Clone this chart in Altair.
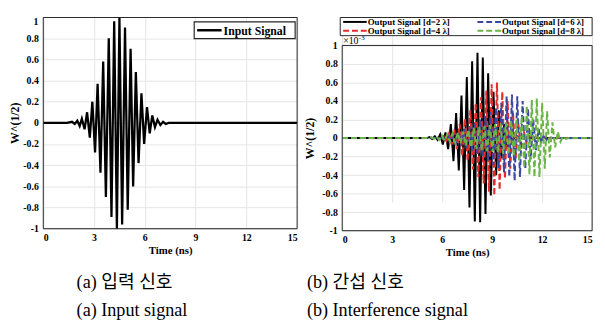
import altair as alt
import pandas as pd

# ---------------- data ----------------
x_ticks = [0, 3, 6, 9, 12, 15]
y_ticks = [-1, -0.8, -0.6, -0.4, -0.2, 0, 0.2, 0.4, 0.6, 0.8, 1]

# (a) input signal: extremes of the burst (time ns, amplitude)
input_t = [0.0, 1.40, 1.70, 1.86, 2.01, 2.15, 2.28, 2.44, 2.59, 2.75, 2.90, 3.06,
           3.21, 3.38, 3.54, 3.70, 3.87, 4.03, 4.19, 4.35, 4.50, 4.66, 4.83, 4.99,
           5.16, 5.31, 5.47, 5.63, 5.80, 5.96, 6.13, 6.29, 6.44, 6.60, 6.75, 6.92,
           7.08, 7.24, 7.40, 15.0]
input_v = [0, 0, 0.01, -0.01, 0.02, -0.03, 0.04, -0.06, 0.10, -0.14, 0.20, -0.28,
           0.37, -0.47, 0.58, -0.70, 0.80, -0.89, 0.96, -1.0, 1.0, -0.96, 0.90, -0.82,
           0.70, -0.60, 0.48, -0.38, 0.28, -0.20, 0.15, -0.10, 0.07, -0.04, 0.03, -0.02,
           0.01, -0.01, 0, 0]

# (b) output signals (x 1e-3)
d2_t = [0.0, 5.08, 5.24, 5.40, 5.56, 5.72, 5.88, 6.04, 6.20, 6.36, 6.52, 6.68, 6.84,
        7.00, 7.16, 7.32, 7.48, 7.64, 7.80, 7.96, 8.12, 8.28, 8.44, 8.60, 8.76, 8.92,
        9.08, 9.24, 9.40, 9.56, 9.72, 9.88, 10.04, 10.20, 10.36, 10.52, 10.68, 15.0]
d2_v = [0, 0, 0.01, -0.01, 0.02, -0.02, 0.04, -0.07, 0.06, -0.12, 0.15, -0.25, 0.27,
        -0.35, 0.46, -0.56, 0.66, -0.75, 0.83, -0.90, 0.92, -0.91, 0.87, -0.82, 0.70, -0.62,
        0.50, -0.40, 0.30, -0.22, 0.15, -0.10, 0.06, -0.04, 0.02, -0.01, 0, 0]

d4_t = [0.0, 5.93, 6.09, 6.25, 6.41, 6.57, 6.73, 6.89, 7.05, 7.21, 7.37, 7.53, 7.69,
        7.85, 8.01, 8.17, 8.33, 8.49, 8.65, 8.81, 8.97, 9.13, 9.29, 9.45, 9.61, 9.77,
        9.93, 10.09, 10.25, 10.41, 10.57, 10.73, 10.89, 11.05, 11.21, 11.37, 11.53,
        11.69, 15.0]
d4_v = [0, 0, 0.02, -0.03, 0.05, -0.07, 0.09, -0.12, 0.15, -0.19, 0.21, -0.25, 0.30,
        -0.34, 0.38, -0.42, 0.44, -0.49, 0.51, -0.58, 0.58, -0.62, 0.60, -0.56, 0.50, -0.44,
        0.40, -0.33, 0.28, -0.22, 0.16, -0.12, 0.08, -0.05, 0.03, -0.02, 0.01,
        0, 0]

d6_t = [0.0, 6.03, 6.19, 6.35, 6.51, 6.67, 6.83, 6.99, 7.15, 7.31, 7.47, 7.63, 7.79,
        7.95, 8.11, 8.27, 8.43, 8.59, 8.75, 8.91, 9.07, 9.23, 9.39, 9.55, 9.71, 9.87,
        10.03, 10.19, 10.35, 10.51, 10.67, 10.83, 10.99, 11.15, 11.31, 11.47, 11.63,
        11.79, 11.95, 12.11, 12.27, 12.43, 12.59, 15.0]
d6_v = [0, 0, -0.01, 0.02, -0.03, 0.04, -0.05, 0.07, -0.08, 0.10, -0.11, 0.13, -0.14,
        0.16, -0.17, 0.20, -0.21, 0.24, -0.25, 0.28, -0.29, 0.33, -0.33, 0.38, -0.37, 0.45,
        -0.42, 0.47, -0.46, 0.45, -0.42, 0.40, -0.33, 0.32, -0.23, 0.20, -0.13,
        0.10, -0.06, 0.04, -0.02, 0.01, 0, 0]

d8_t = [0.0, 5.18, 5.34, 5.50, 5.66, 5.82, 5.98, 6.14, 6.30, 6.46, 6.62, 6.78, 6.94,
        7.10, 7.26, 7.42, 7.58, 7.74, 7.90, 8.06, 8.22, 8.38, 8.54, 8.70, 8.86, 9.02,
        9.18, 9.34, 9.50, 9.66, 9.82, 9.98, 10.14, 10.30, 10.46, 10.62, 10.78, 10.93,
        11.08, 11.24, 11.38, 11.54, 11.68, 11.84, 12.00, 12.16, 12.30, 12.46, 12.62,
        12.78, 12.94, 13.10, 13.26, 13.42, 13.58, 15.0]
d8_v = [0, 0, 0.01, -0.01, 0.02, -0.02, 0.03, -0.03, 0.04, -0.04, 0.05, -0.05, 0.06,
        -0.06, 0.07, -0.08, 0.09, -0.10, 0.11, -0.12, 0.12, -0.13, 0.13, -0.14, 0.14, -0.15,
        0.15, -0.16, 0.16, -0.17, 0.17, -0.18, 0.19, -0.20, 0.20, -0.25, 0.24, -0.32,
        0.35, -0.39, 0.41, -0.42, 0.43, -0.42, 0.38, -0.33, 0.29, -0.21, 0.17,
        -0.10, 0.07, -0.04, 0.02, -0.01, 0, 0]

input_label = "Input Signal"
out_labels = ["Output Signal [d=2 λ]", "Output Signal [d=4 λ]",
              "Output Signal [d=6 λ]", "Output Signal [d=8 λ]"]
out_colors = ["#000000", "#e32b2b", "#3a46a0", "#6bb547"]
captions_a = ["(a) 입력 신호", "(a) Input signal"]
captions_b = ["(b) 간섭 신호", "(b) Interference signal"]

# ---------------- styling ----------------
FONT = "Liberation Serif"
CAPFONT = "Liberation Serif, Noto Sans CJK KR"
GRID = "#e4e4e4"
BOX = "#262626"
DASH = [6, 3]
CAP_Y = [270, 299]


def x_axis():
    return alt.Axis(values=x_ticks, title="Time (ns)", grid=True, gridColor=GRID,
                    domain=False, ticks=False, labelFont=FONT, labelFontWeight="bold",
                    labelFontSize=10, labelColor="black", labelPadding=4,
                    labelExpr="'' + datum.value",
                    titleFont=FONT, titleFontWeight="bold", titleFontSize=11,
                    titleColor="black", titlePadding=2)


def y_axis(title_pad, hide_top):
    expr = "datum.value == 1 ? '' : '' + datum.value" if hide_top else "'' + datum.value"
    return alt.Axis(values=y_ticks, title="W^(1/2)", grid=True, gridColor=GRID,
                    domain=False, ticks=False, labelFont=FONT, labelFontWeight="bold",
                    labelFontSize=10, labelColor="black", labelPadding=5,
                    labelExpr=expr,
                    titleFont=FONT, titleFontWeight="bold", titleFontSize=12,
                    titleColor="black", titlePadding=title_pad)


def caption_layers(x0, lines):
    out = []
    for j, line in enumerate(lines):
        out.append(alt.Chart(pd.DataFrame({"s": [line]})).mark_text(
            align="left", baseline="middle", font=CAPFONT, fontSize=18.5,
            color="black").encode(text="s:N", x=alt.value(x0), y=alt.value(CAP_Y[j])))
    return out


xs = alt.Scale(domain=[0, 15], nice=False, zero=False)
one = pd.DataFrame({"s": [input_label]})
top_lab = pd.DataFrame({"s": [str(y_ticks[-1])]})

# ---------------- (a) input signal ----------------
LW, LH = 259, 216
ys_left = alt.Scale(domain=[-1, 1], nice=False, zero=False)
df_in = pd.DataFrame({"t": input_t, "v": input_v})
left_line = alt.Chart(df_in).mark_line(strokeWidth=2.3, color="black").encode(
    x=alt.X("t:Q", scale=xs, axis=x_axis()),
    y=alt.Y("v:Q", scale=ys_left, axis=y_axis(1, True)),
)
left_top = alt.Chart(top_lab).mark_text(align="right", baseline="top", font=FONT,
                                        fontWeight="bold", fontSize=10,
                                        color="black").encode(
    text="s:N", x=alt.value(-5), y=alt.value(0))
left_box = alt.Chart(one).mark_rect(fill="white", stroke=BOX, strokeWidth=1.2).encode(
    x=alt.value(154), x2=alt.value(257), y=alt.value(5), y2=alt.value(22))
left_sym = alt.Chart(one).mark_rule(strokeWidth=2.5, color="black").encode(
    x=alt.value(157), x2=alt.value(182), y=alt.value(13.5))
left_txt = alt.Chart(one).mark_text(align="left", baseline="middle", font=FONT,
                                    fontWeight="bold", fontSize=12, color="black").encode(
    text="s:N", x=alt.value(184), y=alt.value(14))
left_frame = alt.Chart(one).mark_rect(filled=False, stroke=BOX, strokeWidth=1).encode(
    x=alt.value(0), x2=alt.value(LW), y=alt.value(0.5), y2=alt.value(LH))
left = alt.layer(left_line, left_top, left_box, left_sym, left_txt, left_frame,
                 *caption_layers(34, captions_a)).properties(width=LW, height=LH)

# ---------------- (b) interference signal ----------------
RW, RH, RTOP = 255, 218, 29
ys_right = alt.Scale(domain=[-1, 1], nice=False, zero=False, range=[RH, RTOP])
series = [(d2_t, d2_v), (d4_t, d4_v), (d6_t, d6_v), (d8_t, d8_v)]
layers = []
for i, (tt, vv) in enumerate(series):
    df = pd.DataFrame({"t": tt, "v": vv})
    mk = dict(strokeWidth=2.0, color=out_colors[i])
    if i > 0:
        mk["strokeDash"] = DASH
    layers.append(alt.Chart(df).mark_line(**mk).encode(
        x=alt.X("t:Q", scale=xs, axis=x_axis()),
        y=alt.Y("v:Q", scale=ys_right, axis=y_axis(5, False)),
    ))
exp_df = pd.DataFrame({"s": ["×10"]})
sup_df = pd.DataFrame({"s": ["-3"]})
layers.append(alt.Chart(exp_df).mark_text(align="left", baseline="middle", font=FONT,
                                          fontSize=10, color="black").encode(
    text="s:N", x=alt.value(1), y=alt.value(RTOP - 4)))
layers.append(alt.Chart(sup_df).mark_text(align="left", baseline="middle", font=FONT,
                                          fontSize=7, color="black").encode(
    text="s:N", x=alt.value(17), y=alt.value(RTOP - 8)))
layers.append(alt.Chart(exp_df).mark_rect(filled=False, stroke=BOX, strokeWidth=1).encode(
    x=alt.value(0), x2=alt.value(RW), y=alt.value(RTOP), y2=alt.value(RH)))

# two-column legend above panel (b)
layers.append(alt.Chart(exp_df).mark_rect(fill="white", stroke=BOX, strokeWidth=1).encode(
    x=alt.value(-2), x2=alt.value(RW), y=alt.value(0.5), y2=alt.value(19)))
slots = [(1, 5), (1, 14), (138, 5), (138, 14)]  # column-major: d2, d4 | d6, d8
for i, lab in enumerate(out_labels):
    x0, yy = slots[i]
    rk = dict(strokeWidth=2, color=out_colors[i])
    if i > 0:
        rk["strokeDash"] = DASH
    d = pd.DataFrame({"s": [lab]})
    layers.append(alt.Chart(d).mark_rule(**rk).encode(
        x=alt.value(x0), x2=alt.value(x0 + 24), y=alt.value(yy)))
    layers.append(alt.Chart(d).mark_text(
        align="left", baseline="middle", font=FONT, fontWeight="bold", fontSize=9,
        color="black").encode(text="s:N", x=alt.value(x0 + 25), y=alt.value(yy + 0.5)))
layers += caption_layers(-36, captions_b)
right = alt.layer(*layers).properties(width=RW, height=RH)

chart = alt.hconcat(left, right, spacing=0).properties(
    padding=0
).configure_view(strokeWidth=0).configure(background="white")

chart.save("out.html", embed_options={"renderer": "svg", "actions": False})
